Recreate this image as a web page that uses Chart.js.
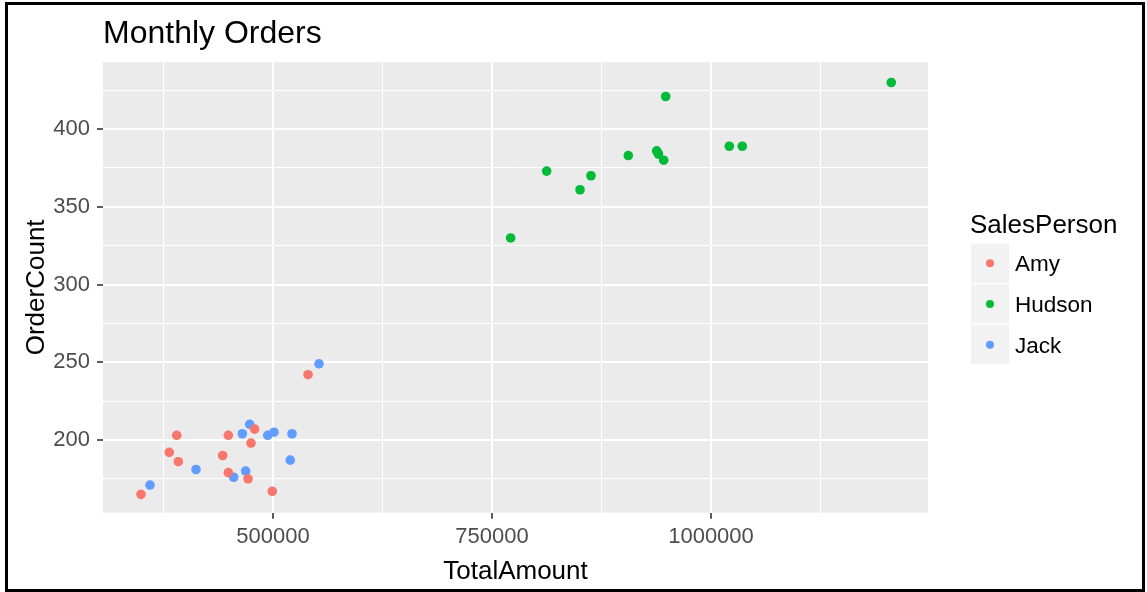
<!DOCTYPE html>
<html>
<head>
<meta charset="utf-8">
<script src="https://cdn.jsdelivr.net/npm/chart.js@4/dist/chart.umd.min.js"></script>
<style>
  html, body { margin: 0; padding: 0; background: #ffffff; }
  #wrap { position: relative; width: 1147px; height: 592px; }
</style>
</head>
<body>
<div id="wrap"><canvas id="c"></canvas></div>
<script>
// ---- Data ----
const seriesNames = ["Amy", "Hudson", "Jack"];
const seriesColors = ["#F8766D", "#00BA38", "#619CFF"];

const amyAmount = [349300, 390100, 381600, 391900, 449000, 442600, 449000, 479100, 474900, 471500, 499200, 540000];
const amyOrders = [165, 203, 192, 186, 203, 190, 179, 207, 198, 175, 167, 242];

const hudsonAmount = [771300, 812400, 850500, 863000, 905600, 938000, 940000, 946000, 948300, 1020900, 1035700, 1205800];
const hudsonOrders = [330, 373, 361, 370, 383, 386, 384, 380, 421, 389, 389, 430];

const jackAmount = [359600, 412100, 455100, 468800, 465000, 473400, 494000, 501100, 519700, 521700, 552500];
const jackOrders = [171, 181, 176, 180, 204, 210, 203, 205, 187, 204, 249];

const xMajorTicks = [500000, 750000, 1000000];
const xMinorTicks = [375000, 625000, 875000, 1125000];
const yMajorTicks = [200, 250, 300, 350, 400];
const yMinorTicks = [175, 225, 275, 325, 375, 425];

const titleText = "Monthly Orders";
const xTitle = "TotalAmount";
const yTitle = "OrderCount";
const legendTitle = "SalesPerson";

// ---- Build datasets ----
function pts(xs, ys) { return xs.map((x, i) => ({ x: x, y: ys[i] })); }
const seriesData = [pts(amyAmount, amyOrders), pts(hudsonAmount, hudsonOrders), pts(jackAmount, jackOrders)];

const FONT = "'Liberation Sans', Arial, sans-serif";

const decor = {
  id: 'decor',
  beforeDraw(chart) {
    const { ctx, chartArea: a } = chart;
    ctx.save();
    ctx.fillStyle = '#EBEBEB';
    ctx.fillRect(a.left, a.top, a.right - a.left, a.bottom - a.top);
    ctx.restore();
  },
  afterDraw(chart) {
    const { ctx, chartArea: a } = chart;
    ctx.save();
    // outer frame
    ctx.strokeStyle = '#000';
    ctx.lineWidth = 3;
    ctx.strokeRect(6.5, 3.5, 1137, 587);
    // title
    ctx.fillStyle = '#000';
    ctx.font = '32px ' + FONT;
    ctx.textAlign = 'left';
    ctx.textBaseline = 'alphabetic';
    ctx.fillText(titleText, a.left, 43);
    // x title
    ctx.font = '26px ' + FONT;
    ctx.textAlign = 'center';
    ctx.fillText(xTitle, (a.left + a.right) / 2, 579);
    // y title
    ctx.save();
    ctx.translate(44, (a.top + a.bottom) / 2);
    ctx.rotate(-Math.PI / 2);
    ctx.fillText(yTitle, 0, 0);
    ctx.restore();
    // legend
    ctx.textAlign = 'left';
    ctx.font = '26px ' + FONT;
    ctx.fillText(legendTitle, 970, 233);
    const kx = 971, kw = 38, kh = 39.5, k0 = 243.5;
    ctx.font = '22.5px ' + FONT;
    seriesNames.forEach((n, i) => {
      const ky = k0 + i * (kh + 1.2);
      ctx.fillStyle = '#F2F2F2';
      ctx.fillRect(kx, ky, kw, kh);
      ctx.fillStyle = seriesColors[i];
      ctx.beginPath();
      ctx.arc(kx + kw / 2, ky + kh / 2, 4, 0, Math.PI * 2);
      ctx.fill();
      ctx.fillStyle = '#000';
      ctx.textBaseline = 'middle';
      ctx.fillText(n, 1015, ky + kh / 2 + 2);
    });
    ctx.restore();
  }
};

const isIn = (arr, v) => arr.indexOf(v) >= 0;

new Chart(document.getElementById('c'), {
  type: 'scatter',
  data: {
    datasets: seriesNames.map((n, i) => ({
      label: n,
      data: seriesData[i],
      backgroundColor: seriesColors[i],
      borderColor: seriesColors[i],
      borderWidth: 0,
      pointRadius: 4.8,
      pointHoverRadius: 4.8
    }))
  },
  options: {
    responsive: true,
    maintainAspectRatio: false,
    animation: false,
    devicePixelRatio: 1,
    layout: { padding: { top: 62, right: 219, left: 0, bottom: 0 } },
    plugins: { legend: { display: false }, title: { display: false }, tooltip: { enabled: false } },
    scales: {
      x: {
        type: 'linear',
        min: 305936,
        max: 1247717,
        afterFit(s) { s.height = 79.3; },
        afterBuildTicks(s) {
          s.ticks = xMinorTicks.concat(xMajorTicks).sort((p, q) => p - q).map(v => ({ value: v }));
        },
        border: { display: false },
        grid: {
          color: '#FFFFFF',
          lineWidth: c => (c.tick && isIn(xMajorTicks, c.tick.value)) ? 2 : 1,
          tickColor: c => (c.tick && isIn(xMajorTicks, c.tick.value)) ? '#333333' : 'rgba(0,0,0,0)',
          tickWidth: 1.6,
          tickLength: 6,
          drawTicks: true
        },
        ticks: {
          autoSkip: false,
          maxRotation: 0,
          padding: 5,
          color: '#4D4D4D',
          font: { family: FONT, size: 22 },
          callback: v => isIn(xMajorTicks, v) ? String(v) : ''
        }
      },
      y: {
        type: 'linear',
        min: 153.2,
        max: 443.2,
        afterFit(s) { s.width = 103; },
        afterBuildTicks(s) {
          s.ticks = yMinorTicks.concat(yMajorTicks).sort((p, q) => p - q).map(v => ({ value: v }));
        },
        border: { display: false },
        grid: {
          color: '#FFFFFF',
          lineWidth: c => (c.tick && isIn(yMajorTicks, c.tick.value)) ? 2 : 1,
          tickColor: c => (c.tick && isIn(yMajorTicks, c.tick.value)) ? '#333333' : 'rgba(0,0,0,0)',
          tickWidth: 1.6,
          tickLength: 6,
          drawTicks: true
        },
        ticks: {
          autoSkip: false,
          padding: 7,
          color: '#4D4D4D',
          font: { family: FONT, size: 22 },
          callback: v => isIn(yMajorTicks, v) ? String(v) : ''
        }
      }
    }
  },
  plugins: [decor]
});
</script>
</body>
</html>
